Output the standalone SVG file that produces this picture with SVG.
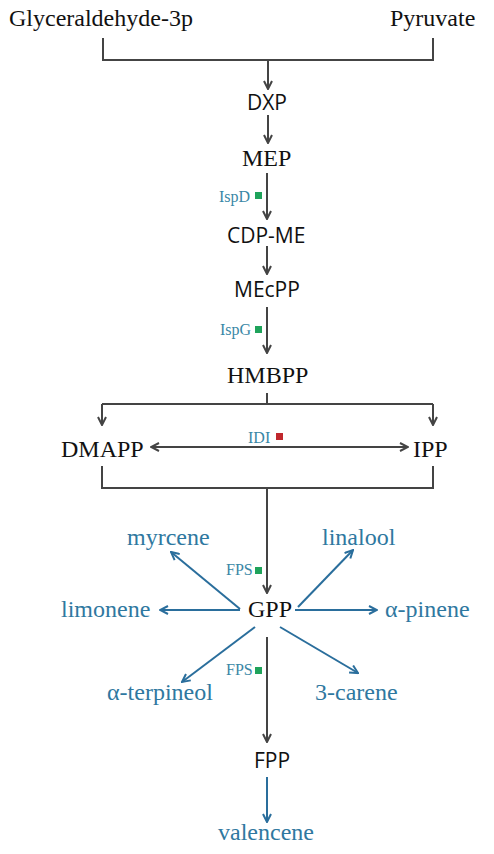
<svg xmlns="http://www.w3.org/2000/svg" width="494" height="854" viewBox="0 0 494 854">
<defs>
<marker id="ag" viewBox="0 0 10 10" refX="9" refY="5" markerWidth="10" markerHeight="10" markerUnits="userSpaceOnUse" orient="auto">
<path d="M1,1 L9,5 L1,9" fill="none" stroke="#444" stroke-width="2"/>
</marker>
<marker id="ab" viewBox="0 0 10 10" refX="9" refY="5" markerWidth="10" markerHeight="10" markerUnits="userSpaceOnUse" orient="auto">
<path d="M1,1 L9,5 L1,9" fill="none" stroke="#2a6e9c" stroke-width="2"/>
</marker>
</defs>
<rect width="494" height="854" fill="#fff"/>
<g id="connectors" fill="none" stroke-width="2">
<g stroke="#444">
<path d="M103,38 V60 H433 V38"/>
<path d="M268,60 V89" marker-end="url(#ag)"/>
<path d="M268,115 V143" marker-end="url(#ag)"/>
<path d="M267,173 V219" marker-end="url(#ag)"/>
<path d="M267,246 V274" marker-end="url(#ag)"/>
<path d="M267,307 V353" marker-end="url(#ag)"/>
<path d="M267,393 V404 M102,404 H433"/>
<path d="M102,404 V425" marker-end="url(#ag)"/>
<path d="M433,404 V425" marker-end="url(#ag)"/>
<path d="M280,447 H408" marker-end="url(#ag)"/>
<path d="M280,447 H151" marker-end="url(#ag)"/>
<path d="M102,466 V488 H433 V466"/>
<path d="M267,488 V593" marker-end="url(#ag)"/>
<path d="M267,637 V742" marker-end="url(#ag)"/>
</g>
<g stroke="#2a6e9c">
<path d="M240,609 L171,552" marker-end="url(#ab)"/>
<path d="M298,607 L353,550" marker-end="url(#ab)"/>
<path d="M240,610 H160" marker-end="url(#ab)"/>
<path d="M295,610 H377" marker-end="url(#ab)"/>
<path d="M255,627 L182,682" marker-end="url(#ab)"/>
<path d="M280,627 L358,673" marker-end="url(#ab)"/>
<path d="M267,777 V822" marker-end="url(#ab)"/>
</g>
</g>
<g id="glyceraldehyde"><text x="9" y="26" style="font-family:'Liberation Serif',serif;font-size:24px;fill:#111">Glyceraldehyde-3p</text></g>
<g id="pyruvate"><text x="390" y="26" style="font-family:'Liberation Serif',serif;font-size:24px;fill:#111">Pyruvate</text></g>
<g id="dxp"><text x="247" y="110" style="font-family:'Open Sans',sans-serif;font-size:21px;fill:#111">DXP</text></g>
<g id="mep"><text x="242" y="166" style="font-family:'Liberation Serif',serif;font-size:24px;fill:#111">MEP</text></g>
<g id="ispd"><text x="219" y="202" style="font-family:'Liberation Serif',serif;font-size:16px;fill:#3a87a6">IspD</text><rect x="255" y="192" width="7" height="7" fill="#1fa35b"/></g>
<g id="cdpme"><text x="227" y="243" style="font-family:'Open Sans',sans-serif;font-size:21px;fill:#111">CDP-ME</text></g>
<g id="mecpp"><text x="234" y="297" style="font-family:'Open Sans',sans-serif;font-size:21px;fill:#111">MEcPP</text></g>
<g id="ispg"><text x="220" y="335" style="font-family:'Liberation Serif',serif;font-size:16px;fill:#3a87a6">IspG</text><rect x="255" y="326" width="7" height="7" fill="#1fa35b"/></g>
<g id="hmbpp"><text x="227" y="383" style="font-family:'Liberation Serif',serif;font-size:24px;fill:#111">HMBPP</text></g>
<g id="dmapp"><text x="61" y="457" font-family="serif" font-size="24" fill="#111">DMAPP</text></g>
<g id="ipp"><text x="413" y="457" font-family="serif" font-size="24" fill="#111">IPP</text></g>
<g id="idi"><text x="248" y="443" style="font-family:'Liberation Serif',serif;font-size:16px;fill:#3a87a6">IDI</text><rect x="276" y="433" width="7" height="7" fill="#c0282d"/></g>
<g id="fps1"><text x="226" y="575" style="font-family:'Liberation Serif',serif;font-size:16px;fill:#3a87a6">FPS</text><rect x="255" y="567" width="7" height="7" fill="#1fa35b"/></g>
<g id="gpp"><text x="248" y="617" font-family="serif" font-size="24" fill="#111">GPP</text></g>
<g id="myrcene"><text x="127" y="545" font-family="Times New Roman" font-size="24" fill="#2f78a0">myrcene</text></g>
<g id="linalool"><text x="322" y="545" font-family="Times New Roman" font-size="24" fill="#2f78a0">linalool</text></g>
<g id="limonene"><text x="61" y="617" font-family="Times New Roman" font-size="24" fill="#2f78a0">limonene</text></g>
<g id="apinene"><text x="385" y="617" font-family="Times New Roman" font-size="24" fill="#2f78a0">α-pinene</text></g>
<g id="aterpineol"><text x="107" y="700" font-family="Times New Roman" font-size="24" fill="#2f78a0">α-terpineol</text></g>
<g id="carene"><text x="315" y="700" font-family="Times New Roman" font-size="24" fill="#2f78a0">3-carene</text></g>
<g id="fps2"><text x="226" y="675" style="font-family:'Liberation Serif',serif;font-size:16px;fill:#3a87a6">FPS</text><rect x="255" y="667" width="7" height="7" fill="#1fa35b"/></g>
<g id="fpp"><text x="254" y="768" style="font-family:'Open Sans',sans-serif;font-size:21px;fill:#111">FPP</text></g>
<g id="valencene"><text x="218" y="840" font-family="Times New Roman" font-size="24" fill="#2f78a0">valencene</text></g>
</svg>
